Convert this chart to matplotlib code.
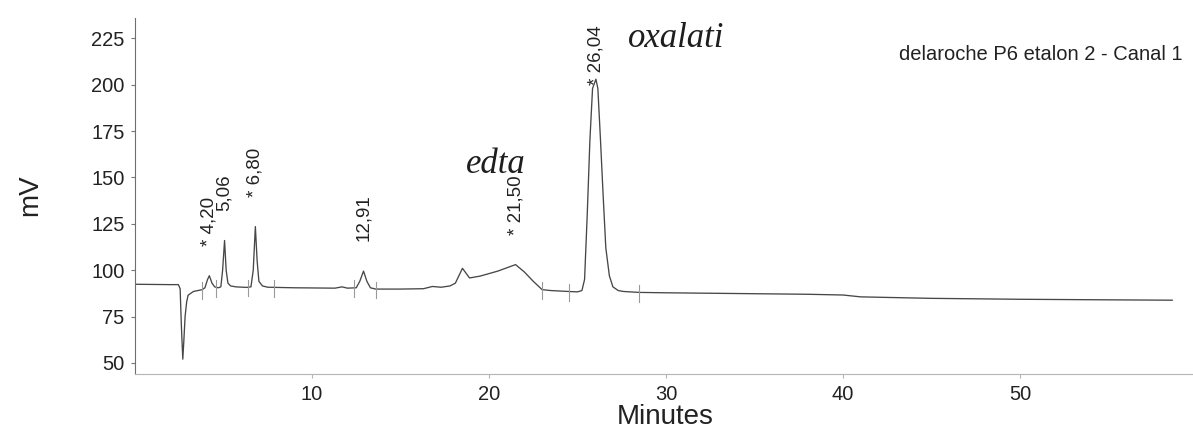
import numpy as np
import matplotlib
matplotlib.use("Agg")
import matplotlib.pyplot as plt

plt.rcParams['font.family'] = ['Liberation Sans', 'DejaVu Sans']

# chromatogram trace (minutes, mV)
time_min = [0.0, 1.0, 2.0, 2.45, 2.55, 2.62, 2.7, 2.76, 2.83, 2.92, 3.0, 3.3, 3.8,
            3.95, 4.1, 4.2, 4.35, 4.5, 4.7, 4.85, 4.95, 5.06, 5.15, 5.25, 5.4,
            5.7, 6.3, 6.55, 6.68, 6.80, 6.9, 7.0, 7.2, 7.5, 9.0, 11.3, 11.7,
            12.0, 12.5, 12.7, 12.91, 13.1, 13.3, 13.6, 15.0, 16.3, 16.8, 17.3,
            17.8, 18.1, 18.5, 18.9, 19.5, 20.5, 21.5, 22.0, 22.5, 23.0, 23.5,
            24.5, 25.0, 25.25, 25.4, 25.55, 25.7, 25.85, 26.04, 26.15, 26.3,
            26.45, 26.6, 26.8, 27.0, 27.3, 27.6, 28.5, 30.0, 35.0, 38.0, 40.0,
            41.0, 45.0, 50.0, 55.0, 58.6]
signal_mv = [92.4, 92.3, 92.2, 92.2, 90.0, 70.0, 52.0, 62.0, 75.0, 83.0, 86.5, 88.5, 89.5,
             90.5, 95.0, 97.0, 93.0, 91.0, 90.5, 91.0, 100.0, 116.0, 100.0, 93.0, 91.5,
             91.0, 90.7, 91.0, 100.0, 123.5, 105.0, 94.0, 91.5, 90.8, 90.5, 90.3, 91.0,
             90.3, 90.5, 94.0, 99.5, 94.0, 90.5, 89.8, 89.8, 90.0, 91.2, 90.8,
             91.5, 93.0, 101.0, 95.8, 96.8, 99.5, 103.0, 99.0, 94.0, 89.5, 89.0,
             88.5, 88.3, 89.0, 95.0, 130.0, 170.0, 198.0, 203.0, 198.0, 170.0,
             140.0, 112.0, 97.0, 91.0, 89.0, 88.5, 88.0, 87.8, 87.3, 87.0, 86.6,
             85.6, 84.8, 84.3, 84.0, 83.8]

# retention time labels printed above the peaks
peak_times = [4.20, 5.06, 6.80, 12.91, 21.50, 26.04]
peak_labels = ["4,20", "5,06", "6,80", "12,91", "21,50", "26,04"]
peak_starred = [True, False, True, False, True, True]

# integration start/stop marks on the baseline
event_times = [3.8, 4.6, 6.4, 7.85, 12.4, 13.6, 23.0, 24.5, 28.5]

# handwritten notes
notes = ["edta", "oxalati"]
note_pos = [(20.4, 157), (30.6, 225)]

fig = plt.figure(figsize=(11.93, 4.41), dpi=100)
ax = fig.add_axes([135 / 1193, 67 / 441, 1 - 135 / 1193, 356 / 441])

tr_color = '#474747'
ax.plot(time_min, signal_mv, color=tr_color, lw=0.95)

for t in event_times:
    yb = np.interp(t, time_min, signal_mv)
    ax.plot([t, t], [yb - 5, yb + 4], color='#9a9a9a', lw=0.8)

for t, lab, st in zip(peak_times, peak_labels, peak_starred):
    yp = np.interp(t, time_min, signal_mv)
    ylab = min(yp + 16, 200)
    txt = ("* " + lab) if st else lab
    ax.text(t, ylab, txt, rotation=90, ha='center', va='bottom',
            fontsize=13.5, color='#222222')

for n, (nx, ny) in zip(notes, note_pos):
    ax.text(nx, ny, n, fontsize=25, family='Liberation Serif', style='italic',
            ha='center', va='center', color='#1e1e1e')

fig.text(1183 / 1193, 1 - 55 / 441, "delaroche P6 etalon 2 - Canal 1",
         ha='right', va='center', fontsize=14.5, color='#222222')

ax.set_xlim(0, 1058 / 17.7)
ax.set_ylim(44, 236)
ax.set_xticks([10, 20, 30, 40, 50])
ax.set_yticks([50, 75, 100, 125, 150, 175, 200, 225])

for s in ['top', 'right']:
    ax.spines[s].set_visible(False)
ax.spines['left'].set_color('#6e6e6e')
ax.spines['bottom'].set_color('#b5b5b5')
ax.tick_params(axis='y', direction='out', length=3, pad=4.5, labelsize=14.5,
               colors='#777777', labelcolor='#222222')
ax.tick_params(axis='x', direction='out', length=3, pad=5, labelsize=14.5,
               colors='#b5b5b5', labelcolor='#222222')

ax.set_xlabel("Minutes", fontsize=20, color='#222222')
ax.set_ylabel("mV", fontsize=20, color='#222222')
ax.xaxis.set_label_coords(0.501, -0.085)
ax.yaxis.set_label_coords(-0.087, 0.503)

fig.savefig("out.png", dpi=100)
